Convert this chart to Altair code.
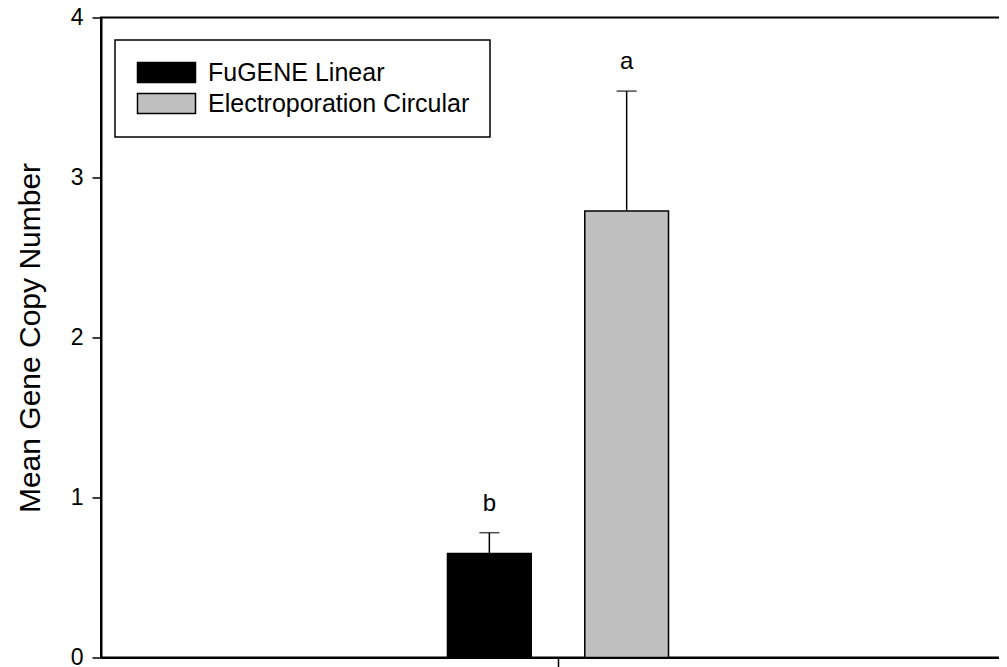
import altair as alt
import pandas as pd

groups = ["FuGENE Linear", "Electroporation Circular"]
category = ["All", "All"]
means = [0.65, 2.79]
upper = [0.78, 3.54]
letters = ["b", "a"]
colors = ["#000000", "#c0c0c0"]
y_ticks = [0, 1, 2, 3, 4]

df = pd.DataFrame({"cat": category, "group": groups, "mean": means,
                   "upper": upper, "letter": letters})

FONT = "Liberation Sans"

x = alt.X("cat:N", scale=alt.Scale(paddingInner=0.362, paddingOuter=1),
          axis=alt.Axis(title=None, labels=False, ticks=True, tickSize=9,
                        tickWidth=1.5, tickColor="black", domainWidth=2,
                        domainColor="black", grid=False))
xo = alt.XOffset("group:N", sort=groups,
                 scale=alt.Scale(paddingInner=0.39, paddingOuter=0))
y = alt.Y("mean:Q", scale=alt.Scale(domain=[0, 4], nice=False),
          axis=alt.Axis(values=y_ticks, title="Mean Gene Copy Number",
                        titleFont=FONT, titleFontSize=30, titleFontWeight="normal",
                        titleColor="black", titlePadding=25,
                        labelFont=FONT, labelFontSize=23, labelColor="black",
                        labelPadding=9, tickSize=9, tickWidth=1.5,
                        tickColor="black", domainWidth=2, domainColor="black",
                        grid=False, format="d"))

color = alt.Color("group:N",
                  scale=alt.Scale(domain=groups, range=colors),
                  legend=alt.Legend(title=None, orient="none", legendX=14, legendY=22.5,
                                    symbolType="M-1,-1h5.8v2h-5.8Z", symbolSize=400,
                                    symbolStrokeColor="black", symbolStrokeWidth=1.5,
                                    labelFont=FONT, labelFontSize=25, labelColor="black",
                                    labelOffset=48, labelLimit=500, rowPadding=4, padding=20,
                                    strokeColor="black", fillColor="white"))

base = alt.Chart(df)

bars = base.mark_bar(stroke="black", strokeWidth=1.5).encode(
    x=x, xOffset=xo, y=y, color=color)

err = base.mark_rule(color="black", strokeWidth=1.5).encode(
    x=x, xOffset=xo, y="mean:Q", y2="upper:Q")

caps = base.mark_tick(color="black", thickness=1.5, size=20, orient="horizontal").encode(
    x=x, xOffset=xo, y="upper:Q")

labels = base.mark_text(font=FONT, fontSize=24, color="black", dy=-29,
                        baseline="middle").encode(
    x=x, xOffset=xo, y="upper:Q", text="letter:N")

chart = alt.layer(bars, err, caps, labels).properties(
    width=914, height=640,
    autosize=alt.AutoSizeParams(type="none"),
    padding={"left": 93, "top": 9.5, "right": -16, "bottom": 12},
).configure_view(stroke="black", strokeWidth=2).configure_legend(strokeWidth=1.5)

chart.save("out.html", embed_options={"renderer": "svg", "actions": False})
